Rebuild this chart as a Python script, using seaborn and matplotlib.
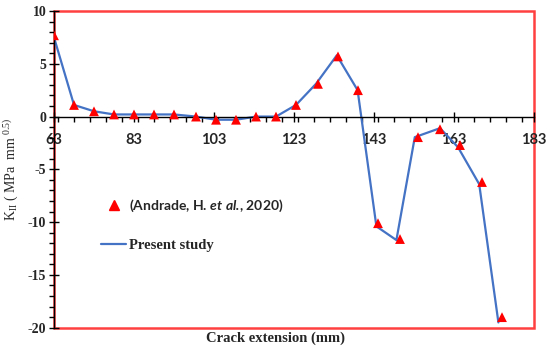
import matplotlib
matplotlib.use("Agg")
import matplotlib.pyplot as plt
import matplotlib.ticker as mticker
from matplotlib.lines import Line2D
import seaborn as sns
import pandas as pd

# Reference data (Andrade, H. et al., 2020) - triangles
x_ref = [63, 68, 73, 78, 83, 88, 93, 98.5, 103.5, 108.5, 113.5, 118.5, 123.5,
         129, 134, 139, 144, 149.5, 154, 159.5, 164.5, 170, 175]
y_ref = [7.7, 1.1, 0.5, 0.2, 0.2, 0.2, 0.2, 0.0, -0.3, -0.3, 0.0, 0.0, 1.1,
         3.1, 5.7, 2.5, -10.1, -11.6, -1.95, -1.2, -2.7, -6.2, -19.0]

# Present study - line
x_line = [63, 68, 73, 78, 83, 88, 93, 98.5, 103.5, 108.5, 113.5, 118.5, 123.5,
          128.5, 133.7, 138.9, 143.6, 148.6, 153.2, 159.5, 164, 169.3, 174.1]
y_line = [7.5, 1.1, 0.5, 0.2, 0.2, 0.2, 0.2, 0.0, -0.3, -0.3, 0.0, 0.0, 1.1,
          3.1, 5.8, 2.5, -10.4, -11.7, -1.95, -1.1, -2.9, -6.4, -19.5]

x_ticks = [63, 83, 103, 123, 143, 163, 183]
y_ticks = [-20, -15, -10, -5, 0, 5, 10]

ref_label = r"(Andrade, H. $\mathbfit{et\ al.}\!$, 2020)"
line_label = "Present study"

sns.set_style("white")
plt.rcParams["font.family"] = ["Liberation Serif", "DejaVu Serif"]
plt.rcParams["axes.unicode_minus"] = False
plt.rcParams["mathtext.fontset"] = "custom"
plt.rcParams["mathtext.rm"] = "Liberation Serif"
plt.rcParams["mathtext.it"] = "Lato:italic"
plt.rcParams["mathtext.bf"] = "Lato:bold"
plt.rcParams["mathtext.bfit"] = "Lato:italic:bold"

df_ref = pd.DataFrame({"x": x_ref, "y": y_ref})
df_line = pd.DataFrame({"x": x_line, "y": y_line})

fig = plt.figure(figsize=(5.5, 3.5), dpi=100)
ax = fig.add_axes([54 / 550, 1 - 327.7 / 350, (534 - 54) / 550, (327.7 - 11) / 350])

sns.lineplot(data=df_line, x="x", y="y", ax=ax, sort=False, color="#4472C4",
             linewidth=1.6, estimator=None)
sns.scatterplot(data=df_ref, x="x", y="y", ax=ax, marker="^", color="#FF0000",
                s=50, edgecolor="none", zorder=5)

ax.set_xlim(63, 183)
ax.set_ylim(-20, 10)
ax.set_xticks(x_ticks)
ax.set_yticks(y_ticks)
ax.xaxis.set_minor_locator(mticker.MultipleLocator(4))
ax.yaxis.set_minor_locator(mticker.MultipleLocator(1))

# spines: axis crosses at zero, plot area border red
ax.spines["bottom"].set_position(("data", 0))
for s in ["bottom", "left"]:
    ax.spines[s].set_color("black")
    ax.spines[s].set_linewidth(1.0)
for s in ["top", "right"]:
    ax.spines[s].set_visible(False)
ax.patch.set_edgecolor("#FF4040")
ax.patch.set_linewidth(1.8)
ax.patch.set_facecolor("white")

ax.tick_params(axis="both", which="major", direction="inout", length=7,
               width=1.0, color="black")
ax.tick_params(axis="both", which="minor", direction="out", length=3.5,
               width=1.0, color="black")
ax.tick_params(axis="x", which="both", bottom=True)
ax.tick_params(axis="y", which="both", left=True)
ax.tick_params(axis="x", pad=8)
ax.tick_params(axis="y", pad=2)

for lab in ax.get_xticklabels():
    lab.set_fontfamily("Lato")
    lab.set_fontweight("bold")
    lab.set_fontsize(10.5)
for lab in ax.get_yticklabels():
    lab.set_fontfamily("Liberation Serif")
    lab.set_fontweight("bold")
    lab.set_fontsize(10)

ax.set_xlabel("")
ax.set_ylabel("")
fig.text(275.5 / 550, 1 - 338 / 350, "Crack extension (mm)", ha="center",
         va="center", fontsize=10.5, fontweight="bold", family="Liberation Serif")
fig.text(11 / 550, 1 - 169 / 350, r"K$_{\mathrm{II}}$ ( MPa  mm $^{0.5)}$",
         ha="center", va="center", rotation=90, fontsize=10,
         family="Liberation Serif")

handles = [
    Line2D([], [], marker="^", color="#FF0000", linestyle="none", markersize=7),
    Line2D([], [], color="#4472C4", linewidth=1.6),
]
leg = ax.legend(handles, [ref_label, line_label], loc="upper left",
                bbox_to_anchor=(101 / 550, 1 - 198 / 350),
                bbox_transform=fig.transFigure, frameon=False,
                labelspacing=1.75, handlelength=1.8, handletextpad=0.2,
                borderaxespad=0, borderpad=0)
t0, t1 = leg.get_texts()
t0.set_fontfamily("Lato")
t0.set_fontweight("bold")
t0.set_fontsize(10)
t1.set_fontfamily("Liberation Serif")
t1.set_fontsize(10.5)
t1.set_fontweight("bold")

fig.savefig("out.png", dpi=100)
